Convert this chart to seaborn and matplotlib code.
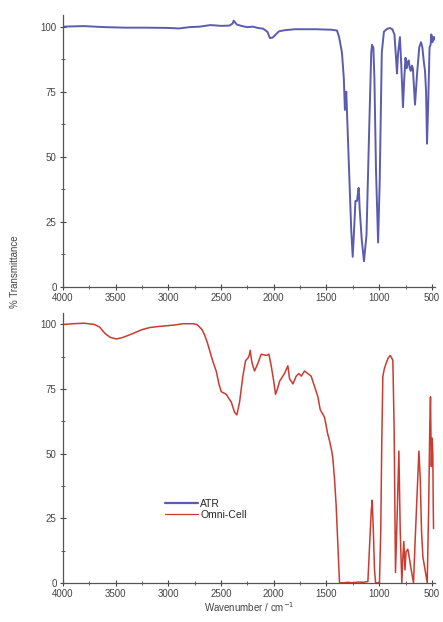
import matplotlib
matplotlib.use("Agg")
import matplotlib.pyplot as plt
import seaborn as sns
import pandas as pd
from matplotlib.ticker import MultipleLocator
from matplotlib.lines import Line2D

# ATR spectrum (wavenumber, %T)
atr_wn = [4000, 3800, 3600, 3400, 3200, 3000, 2900, 2800, 2700, 2600, 2500, 2420, 2390, 2380, 2350,
          2300, 2250, 2200, 2150, 2100, 2060, 2036, 2010, 1980, 1950, 1900, 1800, 1600, 1450, 1400,
          1380, 1353, 1335, 1325, 1318, 1312, 1290, 1265, 1251, 1240, 1225, 1210, 1195, 1190,
          1185, 1165, 1144, 1120, 1095, 1075, 1068, 1055, 1045, 1030, 1010, 995, 975, 955, 930,
          900, 875, 855, 840, 831, 820, 803, 790, 774, 762, 750, 740, 730, 720, 710, 700, 690,
          680, 660, 640, 620, 603, 590, 575, 565, 555, 546, 535, 522, 512, 505, 495, 485, 478, 470]
atr_t = [100, 100.2, 99.8, 99.6, 99.6, 99.5, 99.3, 99.8, 100.0, 100.6, 100.3, 100.4, 101.2, 102.3, 100.8,
         100.2, 99.8, 100.0, 99.5, 99.2, 98.0, 95.6, 95.8, 97.0, 98.2, 98.6, 99.0, 99.0, 98.8, 98.5,
         96, 90, 80, 68, 72, 75, 50, 22, 11.5, 20, 33, 33, 38, 35,
         30, 18, 9.8, 20, 60, 90, 93, 92, 80, 45, 17, 40, 90, 98, 99,
         99.5, 99, 97, 88, 82, 90, 96, 85, 69, 80, 88, 84, 86, 87, 84, 83, 85,
         84, 70, 82, 92, 94, 92, 86, 83, 75, 55, 70, 92, 93, 97, 94, 96, 95, 96]

# Omni-Cell spectrum (wavenumber, %T)
omni_wn = [4000, 3900, 3800, 3700, 3652, 3600, 3550, 3494, 3430, 3336, 3250, 3178, 3100, 3020, 2940,
           2862, 2767, 2730, 2704, 2680, 2656, 2630, 2609, 2580, 2546, 2520, 2498, 2475, 2451, 2420,
           2403, 2372, 2350, 2324, 2293, 2267, 2245, 2233, 2223, 2210, 2198, 2182, 2150, 2119, 2071,
           2046, 2024, 2000, 1983, 1965, 1945, 1898, 1866, 1850, 1818, 1787, 1762, 1739, 1708, 1676,
           1645, 1613, 1581, 1559, 1530, 1518, 1508, 1490, 1471, 1450, 1439, 1423, 1408, 1392, 1376,
           1340, 1300, 1250, 1200, 1150, 1107, 1090, 1075, 1066, 1055, 1044, 1034, 1015, 997, 985,
           975, 965, 950, 934, 915, 895, 880, 870, 858, 845, 830, 813, 800, 785, 775, 766, 755,
           745, 728, 715, 700, 674, 660, 640, 623, 610, 598, 585, 565, 544, 530, 520, 513, 505,
           497, 491, 487, 484]
omni_t = [100, 100.3, 100.5, 100, 99, 96.5, 95, 94.4, 95, 96.5, 98, 98.8, 99.2, 99.5, 99.8,
          100.3, 100.3, 100, 99, 98, 96, 93, 90, 86, 82, 77, 74, 73.5, 73, 71,
          70, 66, 65, 70, 80, 86, 87, 88, 90, 86, 84, 82, 85, 88.5, 88,
          88.5, 84, 78, 73, 75, 78, 81, 84, 79, 77, 80, 81, 80, 82, 81,
          80, 76, 72, 67, 65, 64, 62, 58, 55, 51, 48, 40, 30, 15, 0,
          0, 0.2, 0, 0.3, 0.2, 0.5, 15, 28, 32, 20, 5, 0, 0, 0, 20,
          55, 80, 83, 85, 87, 88, 87, 86, 60, 4, 25, 51, 20, 0, 10, 16, 5,
          12, 13, 10, 6, 0, 15, 35, 51, 40, 20, 10, 5, 0, 30, 60, 72, 45,
          56, 50, 30, 21]

atr_df = pd.DataFrame({"wn": atr_wn, "T": atr_t})
omni_df = pd.DataFrame({"wn": omni_wn, "T": omni_t})

sns.set_style("ticks")
plt.rcParams['font.family'] = ['Liberation Sans', 'DejaVu Sans']

blue = "#5b5bb0"
red = "#cc3a30"
tick_color = "#444444"

fig = plt.figure(figsize=(4.43, 6.22), dpi=100)
ax1 = fig.add_axes([0.142, 0.539, 0.840, 0.437])
ax2 = fig.add_axes([0.142, 0.063, 0.840, 0.434])

sns.lineplot(data=atr_df, x="wn", y="T", sort=False, ax=ax1, color=blue, lw=1.4, estimator=None)
sns.lineplot(data=omni_df, x="wn", y="T", sort=False, ax=ax2, color=red, lw=1.1, estimator=None)

for ax in (ax1, ax2):
    ax.set_xlim(4000, 470)
    ax.set_ylim(0, 104.5)
    ax.set_xticks([4000, 3500, 3000, 2500, 2000, 1500, 1000, 500])
    ax.set_yticks([0, 25, 50, 75, 100])
    ax.xaxis.set_minor_locator(MultipleLocator(250))
    ax.yaxis.set_minor_locator(MultipleLocator(12.5))
    ax.tick_params(which="major", direction="inout", length=5, width=0.8,
                   labelsize=7, colors=tick_color, pad=2)
    ax.tick_params(which="minor", direction="inout", length=3, width=0.6, colors=tick_color)
    for s in ("top", "right"):
        ax.spines[s].set_visible(False)
    for s in ("left", "bottom"):
        ax.spines[s].set_color("#555555")
        ax.spines[s].set_linewidth(0.9)
    ax.set_ylabel("")
    ax.set_xlabel("")

ax2.set_xlabel("Wavenumber / cm$^{-1}$", fontsize=7, color="#444444", labelpad=1)
fig.text(0.034, 0.563, "% Transmittance", rotation=90, fontsize=7, color="#444444",
         ha="center", va="center")

handles = [Line2D([], [], color=blue, lw=1.6), Line2D([], [], color=red, lw=0.9)]
ax2.legend(handles, ["ATR", "Omni-Cell"], loc="upper left", bbox_to_anchor=(0.26, 0.33),
           frameon=False, fontsize=7.5, handlelength=3.2, handletextpad=0.2,
           labelspacing=0.1, borderpad=0)

fig.savefig("out.png", dpi=100)
